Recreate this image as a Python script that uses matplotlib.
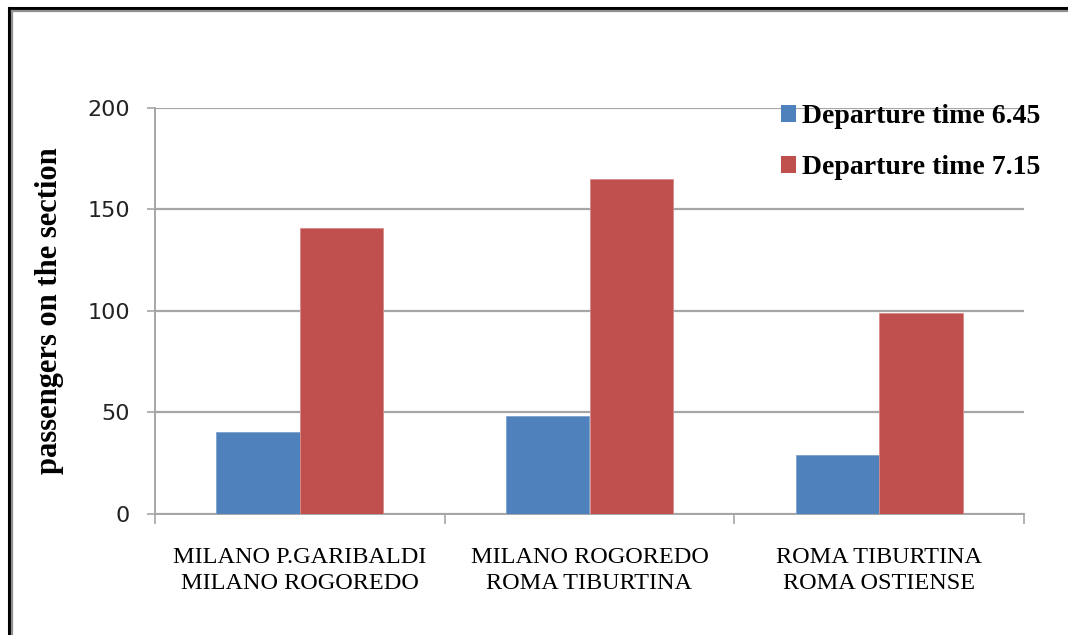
import numpy as np
import matplotlib
matplotlib.use('Agg')
import matplotlib.pyplot as plt
from matplotlib.lines import Line2D
from matplotlib.patches import Patch

# passengers on each section for the two departures
sections = ['MILANO P.GARIBALDI\nMILANO ROGOREDO',
            'MILANO ROGOREDO\nROMA TIBURTINA',
            'ROMA TIBURTINA\nROMA OSTIENSE']
series_names = ['Departure time 6.45', 'Departure time 7.15']
dep_645 = [40, 48, 29]
dep_715 = [141, 165, 99]
yticks = [0, 50, 100, 150, 200]

blue = '#4F81BD'
red = '#C0504D'
grid_gray = '#A6A6A6'

W, H = 1068, 635
fig = plt.figure(figsize=(W / 100, H / 100), dpi=100)
ax = fig.add_axes([155 / W, 1 - 513.5 / H, (1024 - 155) / W, (513.5 - 108) / H])

x = np.arange(len(sections))
width = 0.288
ax.bar(x - width / 2, dep_645, width, color=blue, edgecolor='#7FA0CF', linewidth=0.6, zorder=3)
ax.bar(x + width / 2, dep_715, width, color=red, edgecolor='#D98A88', linewidth=0.6, zorder=3)

ax.set_xlim(-0.5, len(sections) - 0.5)
ax.set_ylim(0, 200)
ax.set_yticks(yticks)
ax.set_yticklabels([str(v) for v in yticks], fontsize=16, family='DejaVu Sans',
                   color='#222222')
ax.yaxis.grid(True, color=grid_gray, linewidth=1.6, zorder=0)
ax.set_axisbelow(True)

# category labels centred, tick marks on the category boundaries
ax.set_xticks(x)
ax.set_xticklabels(sections, family='Liberation Serif', fontsize=17.5, linespacing=1.3)
ax.set_xticks(np.arange(len(sections) + 1) - 0.5, minor=True)
ax.tick_params(axis='x', which='major', length=0, pad=24)
ax.tick_params(axis='x', which='minor', length=7, width=1.2, color=grid_gray, direction='out')
ax.tick_params(axis='y', length=6, width=1.2, color=grid_gray, direction='out', pad=12)

for side in ['top', 'right']:
    ax.spines[side].set_visible(False)
for side in ['left', 'bottom']:
    ax.spines[side].set_color(grid_gray)
    ax.spines[side].set_linewidth(1.4)

ax.set_ylabel('passengers on the section', family='Liberation Serif', fontweight='bold',
              fontsize=22, labelpad=17)

handles = [Patch(facecolor=blue), Patch(facecolor=red)]
fig.legend(handles, series_names, loc='upper left', bbox_to_anchor=(770 / W, 1 - 93 / H),
           frameon=False, prop={'family': 'Liberation Serif', 'weight': 'bold', 'size': 20},
           handlelength=0.55, handleheight=0.55, handletextpad=0.2, labelspacing=0.95,
           borderaxespad=0)

# page frame: black outer line with grey inner line, top and left only
fig.add_artist(Line2D([8.5 / W, 8.5 / W], [0, 1 - 7.5 / H], color='black', linewidth=2.2,
                      transform=fig.transFigure))
fig.add_artist(Line2D([8.5 / W, 1], [1 - 7.5 / H, 1 - 7.5 / H], color='black', linewidth=2.2,
                      transform=fig.transFigure))
fig.add_artist(Line2D([12 / W, 12 / W], [0, 1 - 10.5 / H], color='#909090', linewidth=1.6,
                      transform=fig.transFigure))
fig.add_artist(Line2D([12 / W, 1], [1 - 10.5 / H, 1 - 10.5 / H], color='#909090', linewidth=1.6,
                      transform=fig.transFigure))

fig.savefig('out.png', dpi=100)
